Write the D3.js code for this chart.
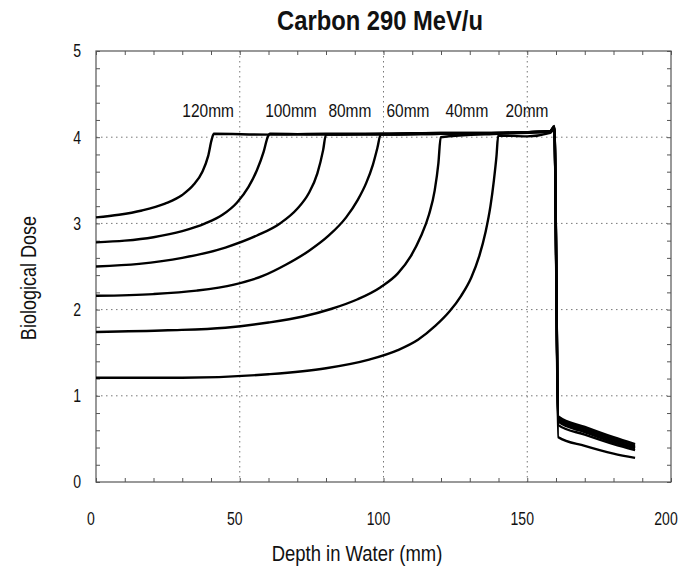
<!DOCTYPE html>
<html>
<head>
<meta charset="utf-8">
<script src="https://cdn.jsdelivr.net/npm/d3@7"></script>
<style>
  body { margin: 0; background: #fff; }
  text { font-family: "Liberation Sans", Arial, sans-serif; fill: #111; }
  .grid line { stroke: #777; stroke-width: 1; stroke-dasharray: 1.5,3.5; }
  .ticks path { display: none; }
  .ticks line { stroke: #555; }
</style>
</head>
<body>
<div id="chart"></div>
<script>
// curve data: [depth mm, biological dose]
var sobp120 = [[0,3.07],[8,3.1],[16,3.15],[24,3.23],[30,3.33],[34,3.45],[37,3.6],[39,3.78],[40.3,3.98],[41,4.04],
  [60,4.03],[80,4.04],[100,4.04],[120,4.05],[140,4.05],[158,4.07],[159.4,4.13],[160.8,0.76],[170,0.64],[180,0.52],[187.5,0.44]];
var sobp100 = [[0,2.78],[10,2.8],[20,2.84],[30,2.91],[38,3.0],[44,3.1],[49,3.24],[53,3.42],[56,3.62],[58.3,3.83],[59.7,4.0],[60.5,4.04],
  [80,4.03],[100,4.04],[120,4.05],[140,4.05],[158,4.07],[159.4,4.12],[160.8,0.74],[170,0.62],[180,0.5],[187.5,0.42]];
var sobp80 = [[0,2.5],[15,2.53],[30,2.6],[45,2.72],[56,2.86],[64,3.0],[70,3.17],[74,3.35],[77,3.58],[79,3.85],[80,4.03],
  [100,4.03],[120,4.04],[140,4.05],[158,4.07],[159.4,4.12],[160.8,0.72],[170,0.6],[180,0.48],[187.5,0.4]];
var sobp60 = [[0,2.16],[20,2.18],[35,2.22],[48,2.29],[58,2.39],[66,2.52],[74,2.68],[81,2.86],[87,3.07],[91,3.27],[94,3.47],[96.3,3.68],[97.9,3.88],[99,4.03],
  [120,4.04],[140,4.05],[158,4.07],[159.4,4.12],[160.8,0.7],[170,0.58],[180,0.46],[187.5,0.39]];
var sobp40 = [[0,1.74],[25,1.76],[45,1.79],[60,1.85],[72,1.92],[82,2.01],[91,2.12],[99,2.26],[105,2.42],[109.5,2.62],[113,2.85],[115.8,3.1],[117.8,3.38],[119.1,3.7],[119.9,4.0],
  [140,4.04],[158,4.06],[159.4,4.11],[160.8,0.66],[170,0.55],[180,0.44],[187.5,0.37]];
var sobp20 = [[0,1.21],[30,1.21],[60,1.25],[80,1.32],[95,1.42],[105,1.53],[112,1.65],[118,1.81],[123,1.98],[127,2.16],[130.5,2.37],[133.3,2.62],[135.5,2.9],[137.2,3.2],[138.4,3.5],[139.3,3.78],[139.9,4.02],
  [150,4.01],[158,4.05],[159.4,4.1],[160.8,0.52],[170,0.42],[180,0.33],[187.5,0.28]];

var curves = [sobp120, sobp100, sobp80, sobp60, sobp40, sobp20];
var curveNames = ["120mm", "100mm", "80mm", "60mm", "40mm", "20mm"];
var nameDepth = [39, 67.8, 88.3, 108.5, 129, 149.9];  // where each label sits (mm)
var nameDose = 4.23;

var xTicks = [0, 50, 100, 150, 200];
var yTicks = [0, 1, 2, 3, 4, 5];
var xGrid = [50, 100, 150];
var yGrid = [1, 2, 3, 4];

var margin = {top: 51, right: 10, bottom: 88, left: 96},
    width = 681 - margin.left - margin.right,
    height = 570 - margin.top - margin.bottom;

var svg = d3.select("#chart")
  .append("svg")
    .attr("width", 681)
    .attr("height", 570)
  .append("g")
    .attr("transform", "translate(" + margin.left + "," + margin.top + ")");

// the original lettering is a condensed sans, so squeeze text horizontally
function label(px, py, str, size, sx, opts) {
  opts = opts || {};
  return svg.append("text")
    .attr("transform", "translate(" + px + "," + py + ")" + (opts.rotate ? " rotate(" + opts.rotate + ")" : "") + " scale(" + sx + ",1)")
    .attr("text-anchor", opts.anchor || "middle")
    .attr("dy", opts.dy || null)
    .style("font-size", size + "px")
    .style("font-weight", opts.weight || null)
    .text(str);
}

var x = d3.scaleLinear().domain([0, 200]).range([0, width]);
var y = d3.scaleLinear().domain([0, 5]).range([height, 0]);

// dotted grid
var grid = svg.append("g").attr("class", "grid");
grid.selectAll(".vg").data(xGrid).enter().append("line")
  .attr("x1", function(d) { return x(d); }).attr("x2", function(d) { return x(d); })
  .attr("y1", 0).attr("y2", height);
grid.selectAll(".hg").data(yGrid).enter().append("line")
  .attr("y1", function(d) { return y(d); }).attr("y2", function(d) { return y(d); })
  .attr("x1", 0).attr("x2", width);

// inward minor ticks on all four sides
var xMinor = d3.range(0, 201, 10), yMinor = d3.range(0, 5.01, 0.2);
svg.append("g").attr("class", "ticks").attr("transform", "translate(0," + height + ")")
  .call(d3.axisBottom(x).tickValues(xMinor).tickSize(-4).tickFormat(""));
svg.append("g").attr("class", "ticks")
  .call(d3.axisTop(x).tickValues(xMinor).tickSize(-4).tickFormat(""));
svg.append("g").attr("class", "ticks")
  .call(d3.axisLeft(y).tickValues(yMinor).tickSize(-4).tickFormat(""));
svg.append("g").attr("class", "ticks").attr("transform", "translate(" + width + ",0)")
  .call(d3.axisRight(y).tickValues(yMinor).tickSize(-4).tickFormat(""));

// frame
svg.append("rect")
  .attr("width", width).attr("height", height)
  .attr("fill", "none").attr("stroke", "#555").attr("stroke-width", 1.2);

// tick labels
xTicks.forEach(function(d) { label(x(d) - 5, height + 43, d, 18, 0.78); });
yTicks.forEach(function(d) { label(-15, y(d), d, 18, 0.78, {anchor: "end", dy: "0.36em"}); });

// curves
var line = d3.line()
  .x(function(d) { return x(d[0]); })
  .y(function(d) { return y(d[1]); })
  .curve(d3.curveMonotoneX);

svg.selectAll(".sobp").data(curves).enter().append("path")
  .attr("d", line)
  .attr("fill", "none")
  .attr("stroke", "#000")
  .attr("stroke-width", 2.4)
  .attr("stroke-linejoin", "round");

// curve names
curveNames.forEach(function(d, i) { label(x(nameDepth[i]), y(nameDose), d, 18, 0.86); });

// title and axis titles
label(380 - margin.left, 30 - margin.top, "Carbon 290 MeV/u", 27, 0.88, {weight: "bold"});
label(357 - margin.left, 561 - margin.top, "Depth in Water (mm)", 22, 0.84);
label(36 - margin.left, 278 - margin.top, "Biological Dose", 22, 0.82, {rotate: -90});
</script>
</body>
</html>
